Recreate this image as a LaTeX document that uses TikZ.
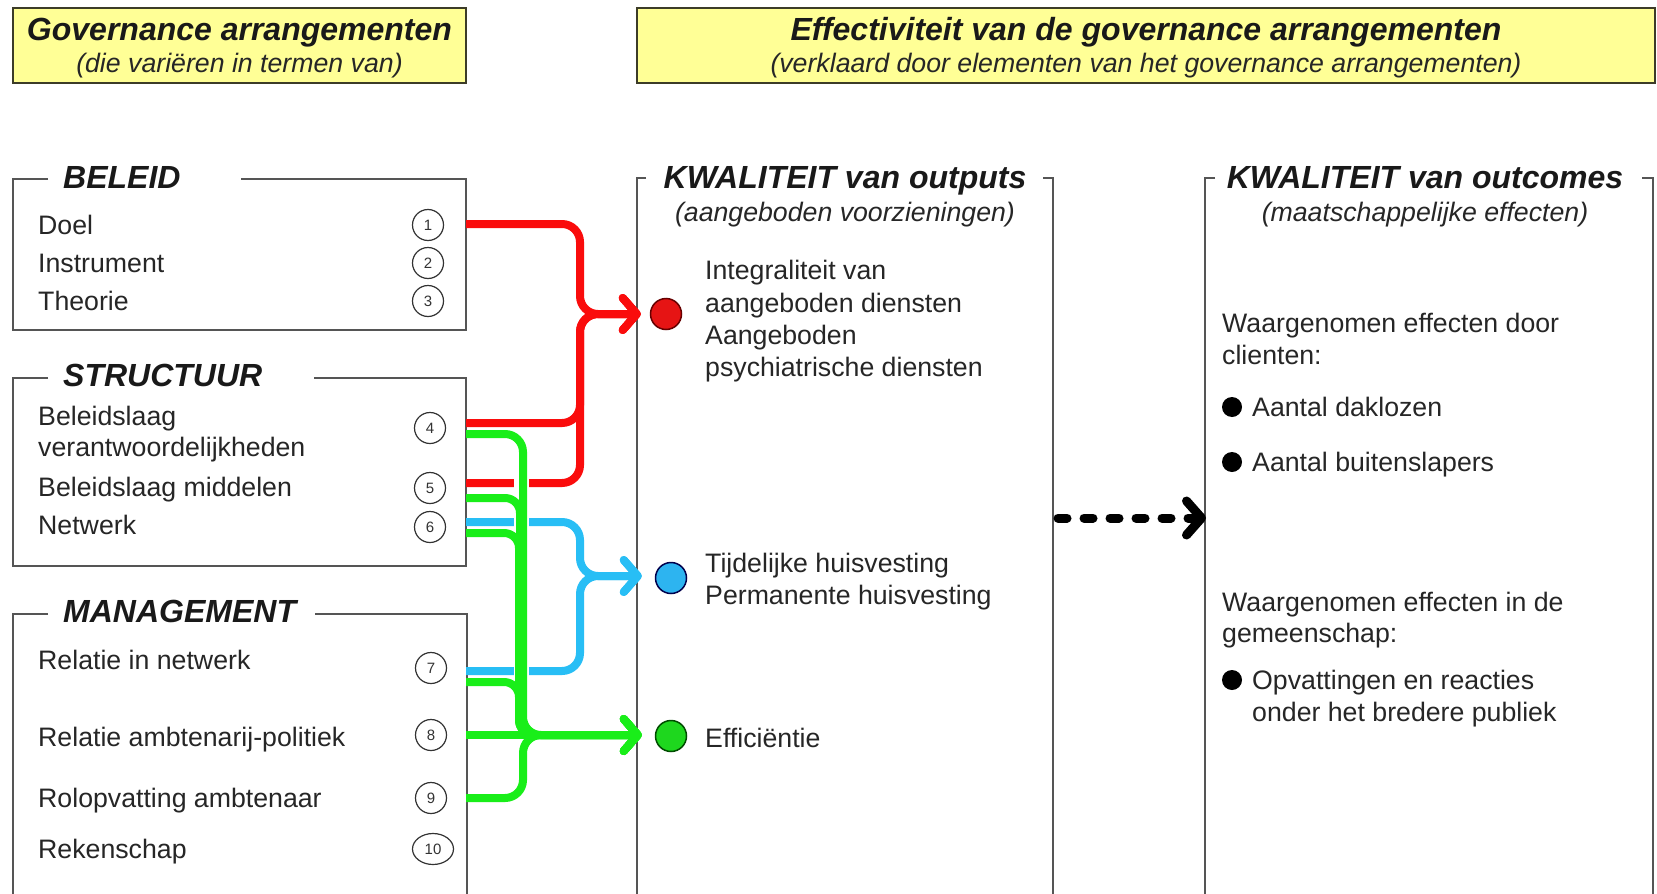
\documentclass[tikz,border=0pt]{standalone}
\usepackage{fontspec}
\setmainfont{Liberation Sans}
\usetikzlibrary{arrows.meta,shapes.geometric,calc}
\definecolor{hdrfill}{RGB}{255,255,150}
\definecolor{hdrdraw}{RGB}{60,60,40}
\definecolor{boxline}{RGB}{85,85,85}
\definecolor{cred}{RGB}{250,12,12}
\definecolor{cgreen}{RGB}{25,238,25}
\definecolor{cblue}{RGB}{40,190,245}
\definecolor{dred}{RGB}{230,20,20}
\definecolor{dblue}{RGB}{45,180,240}
\definecolor{dgreen}{RGB}{30,215,30}
\newcommand{\bodyfnt}{\fontsize{26.7pt}{32pt}\selectfont}
\newcommand{\titlefnt}{\fontsize{32pt}{38pt}\selectfont\bfseries\itshape}
\newcommand{\subfnt}{\fontsize{26.7pt}{32pt}\selectfont\itshape}
\newcommand{\numfnt}{\fontsize{15pt}{15pt}\selectfont}
\begin{document}
\begin{tikzpicture}[x=1pt,y=-1pt,
  txt/.style={anchor=base west, inner sep=0pt, font=\bodyfnt, text=black!85},
  ttl/.style={anchor=base west, inner sep=0pt, font=\titlefnt, text=black!90},
  ctitle/.style={anchor=base, inner sep=0pt, font=\titlefnt, text=black!90},
  csub/.style={anchor=base, inner sep=0pt, font=\subfnt, text=black!85},
  hdr/.style={draw=hdrdraw, fill=hdrfill, line width=2.5pt},
  frame/.style={draw=boxline, line width=2pt},
  num/.style={draw=black!80, line width=1.2pt, circle, minimum size=31pt, inner sep=0pt, font=\numfnt, text=black!80},
  numell/.style={draw=black!80, line width=1.2pt, ellipse, minimum width=41pt, minimum height=31pt, inner sep=0pt, font=\numfnt, text=black!80},
  dot/.style={circle, minimum size=31pt, inner sep=0pt, line width=1.5pt},
  bullet/.style={circle, fill=black, minimum size=20pt, inner sep=0pt},
  conn/.style={line width=8pt, rounded corners=18pt, -{Straight Barb[length=14pt,width=32pt,round]}},
  gapline/.style={white, line width=15pt}
]
\useasboundingbox (0,0) rectangle (1657,894);
\fill[white] (0,0) rectangle (1657,894);

% ---------- headers ----------
\draw[hdr] (13,8) rectangle (466,83);
\node[ctitle] (h1t) at (239.5,40) {Governance arrangementen};
\node[csub] (h1s) at (239.5,72) {(die variëren in termen van)};
\draw[hdr] (637,8) rectangle (1655,83);
\node[ctitle] (h2t) at (1146,40) {Effectiviteit van de governance arrangementen};
\node[csub] (h2s) at (1146,72) {(verklaard door elementen van het governance arrangementen)};

% ---------- left boxes ----------
\draw[frame] (48,179) -- (13,179) -- (13,330) -- (466,330) -- (466,179) -- (241,179);
\node[ttl] (tb) at (63,188) {BELEID};
\draw[frame] (48,378) -- (13,378) -- (13,566) -- (466,566) -- (466,378) -- (314,378);
\node[ttl] (ts) at (63,386) {STRUCTUUR};
\draw[frame] (48,614) -- (13,614) -- (13,900);
\draw[frame] (315,614) -- (467,614) -- (467,900);
\node[ttl] (tm) at (63,622) {MANAGEMENT};

\node[txt] (i1) at (38,234) {Doel};
\node[txt] (i2) at (38,272) {Instrument};
\node[txt] (i3) at (38,310) {Theorie};
\node[txt] (i4a) at (38,425) {Beleidslaag};
\node[txt] (i4b) at (38,456) {verantwoordelijkheden};
\node[txt] (i5) at (38,496) {Beleidslaag middelen};
\node[txt] (i6) at (38,534) {Netwerk};
\node[txt] (i7) at (38,669) {Relatie in netwerk};
\node[txt] (i8) at (38,746) {Relatie ambtenarij-politiek};
\node[txt] (i9) at (38,807) {Rolopvatting ambtenaar};
\node[txt] (i10) at (38,858) {Rekenschap};

\node[num] (n1) at (428,225) {1};
\node[num] (n2) at (428,263) {2};
\node[num] (n3) at (428,301) {3};
\node[num] (n4) at (430,428) {4};
\node[num] (n5) at (430,488) {5};
\node[num] (n6) at (430,527) {6};
\node[num] (n7) at (431,668) {7};
\node[num] (n8) at (431,735) {8};
\node[num] (n9) at (431,798) {9};
\node[numell] (n10) at (433,849) {10};

% ---------- output box ----------
\draw[frame, line width=1.6pt] (646,178) -- (637,178) -- (637,900);
\draw[frame, line width=1.6pt] (1043,178) -- (1053,178) -- (1053,900);
\node[ctitle] (to) at (845,188) {KWALITEIT van outputs};
\node[csub] (tos) at (845,221) {(aangeboden voorzieningen)};

\node[dot, fill=dred, draw=red!40!black] (dr) at (666,314) {};
\node[dot, fill=dblue, draw=blue!30!black] (db) at (671,578) {};
\node[dot, fill=dgreen, draw=green!30!black] (dg) at (671,736) {};

\node[txt] (o1) at (705,279) {Integraliteit van};
\node[txt] (o2) at (705,312) {aangeboden diensten};
\node[txt] (o3) at (705,344) {Aangeboden};
\node[txt] (o4) at (705,376) {psychiatrische diensten};
\node[txt] (o5) at (705,572) {Tijdelijke huisvesting};
\node[txt] (o6) at (705,604) {Permanente huisvesting};
\node[txt] (o7) at (705,747) {Efficiëntie};

% ---------- outcome box ----------
\draw[frame, line width=1.6pt] (1215,178) -- (1205,178) -- (1205,900);
\draw[frame, line width=1.6pt] (1642,178) -- (1653,178) -- (1653,900);
\node[ctitle] (tc) at (1425,188) {KWALITEIT van outcomes};
\node[csub] (tcs) at (1425,221) {(maatschappelijke effecten)};

\node[txt] (c1) at (1222,332) {Waargenomen effecten door};
\node[txt] (c2) at (1222,364) {clienten:};
\node[bullet] (b1) at (1232,407) {};
\node[txt] (c3) at (1252,416) {Aantal daklozen};
\node[bullet] (b2) at (1232,462) {};
\node[txt] (c4) at (1252,471) {Aantal buitenslapers};
\node[txt] (c5) at (1222,611) {Waargenomen effecten in de};
\node[txt] (c6) at (1222,642) {gemeenschap:};
\node[bullet] (b3) at (1232,680) {};
\node[txt] (c7) at (1252,689) {Opvattingen en reacties};
\node[txt] (c8) at (1252,721) {onder het bredere publiek};

% ---------- connector end points ----------
\coordinate (s1) at (466,224);
\coordinate (s4r) at (466,423);
\coordinate (s4g) at (466,434);
\coordinate (s5r) at (466,483);
\coordinate (s5g) at (466,498);
\coordinate (s6b) at (466,522);
\coordinate (s6g) at (466,533);
\coordinate (s7b) at (466,671);
\coordinate (s7g) at (466,682);
\coordinate (s8) at (466,735);
\coordinate (s9) at (466,798);
\coordinate (er) at ($(dr.west)+(-9,0)$);
\coordinate (eb) at ($(db.west)+(-13,-2)$);
\coordinate (eg) at ($(dg.west)+(-13,-1)$);

% red
\draw[conn, cred] (s1) -- (580,224) -- (580,314) -- (er);
\draw[conn, cred] (s4r) -- (580,423) -- (580,314) -- (er);
\draw[conn, cred] (s5r) -- (580,483) -- (580,314) -- (er);
% blue
\draw[conn, cblue] (s6b) -- (580,522) -- (580,576) -- (eb);
\draw[conn, cblue] (s7b) -- (580,671) -- (580,576) -- (eb);
% gaps where green trunk crosses
\draw[gapline] (521,470) -- (521,690);
% green
\draw[conn, cgreen] (s4g) -- (523,434) -- (523,735) -- (eg);
\draw[conn, cgreen, rounded corners=15pt] (s5g) -- (520,498) -- (520,735) -- (eg);
\draw[conn, cgreen, rounded corners=15pt] (s6g) -- (519,533) -- (519,735) -- (eg);
\draw[conn, cgreen, rounded corners=15pt] (s7g) -- (519,682) -- (519,735) -- (eg);
\draw[conn, cgreen] (s8) -- (eg);
\draw[conn, cgreen] (s9) -- (523,798) -- (523,735) -- (eg);

% dotted arrow between boxes
\coordinate (da) at (1058,518);
\coordinate (dz) at (1206,518);
\draw[line width=9pt, line cap=round, dash pattern=on 9pt off 17pt, -{Straight Barb[length=15pt,width=34pt,round]}] (da) -- (dz);
\end{tikzpicture}
\end{document}
